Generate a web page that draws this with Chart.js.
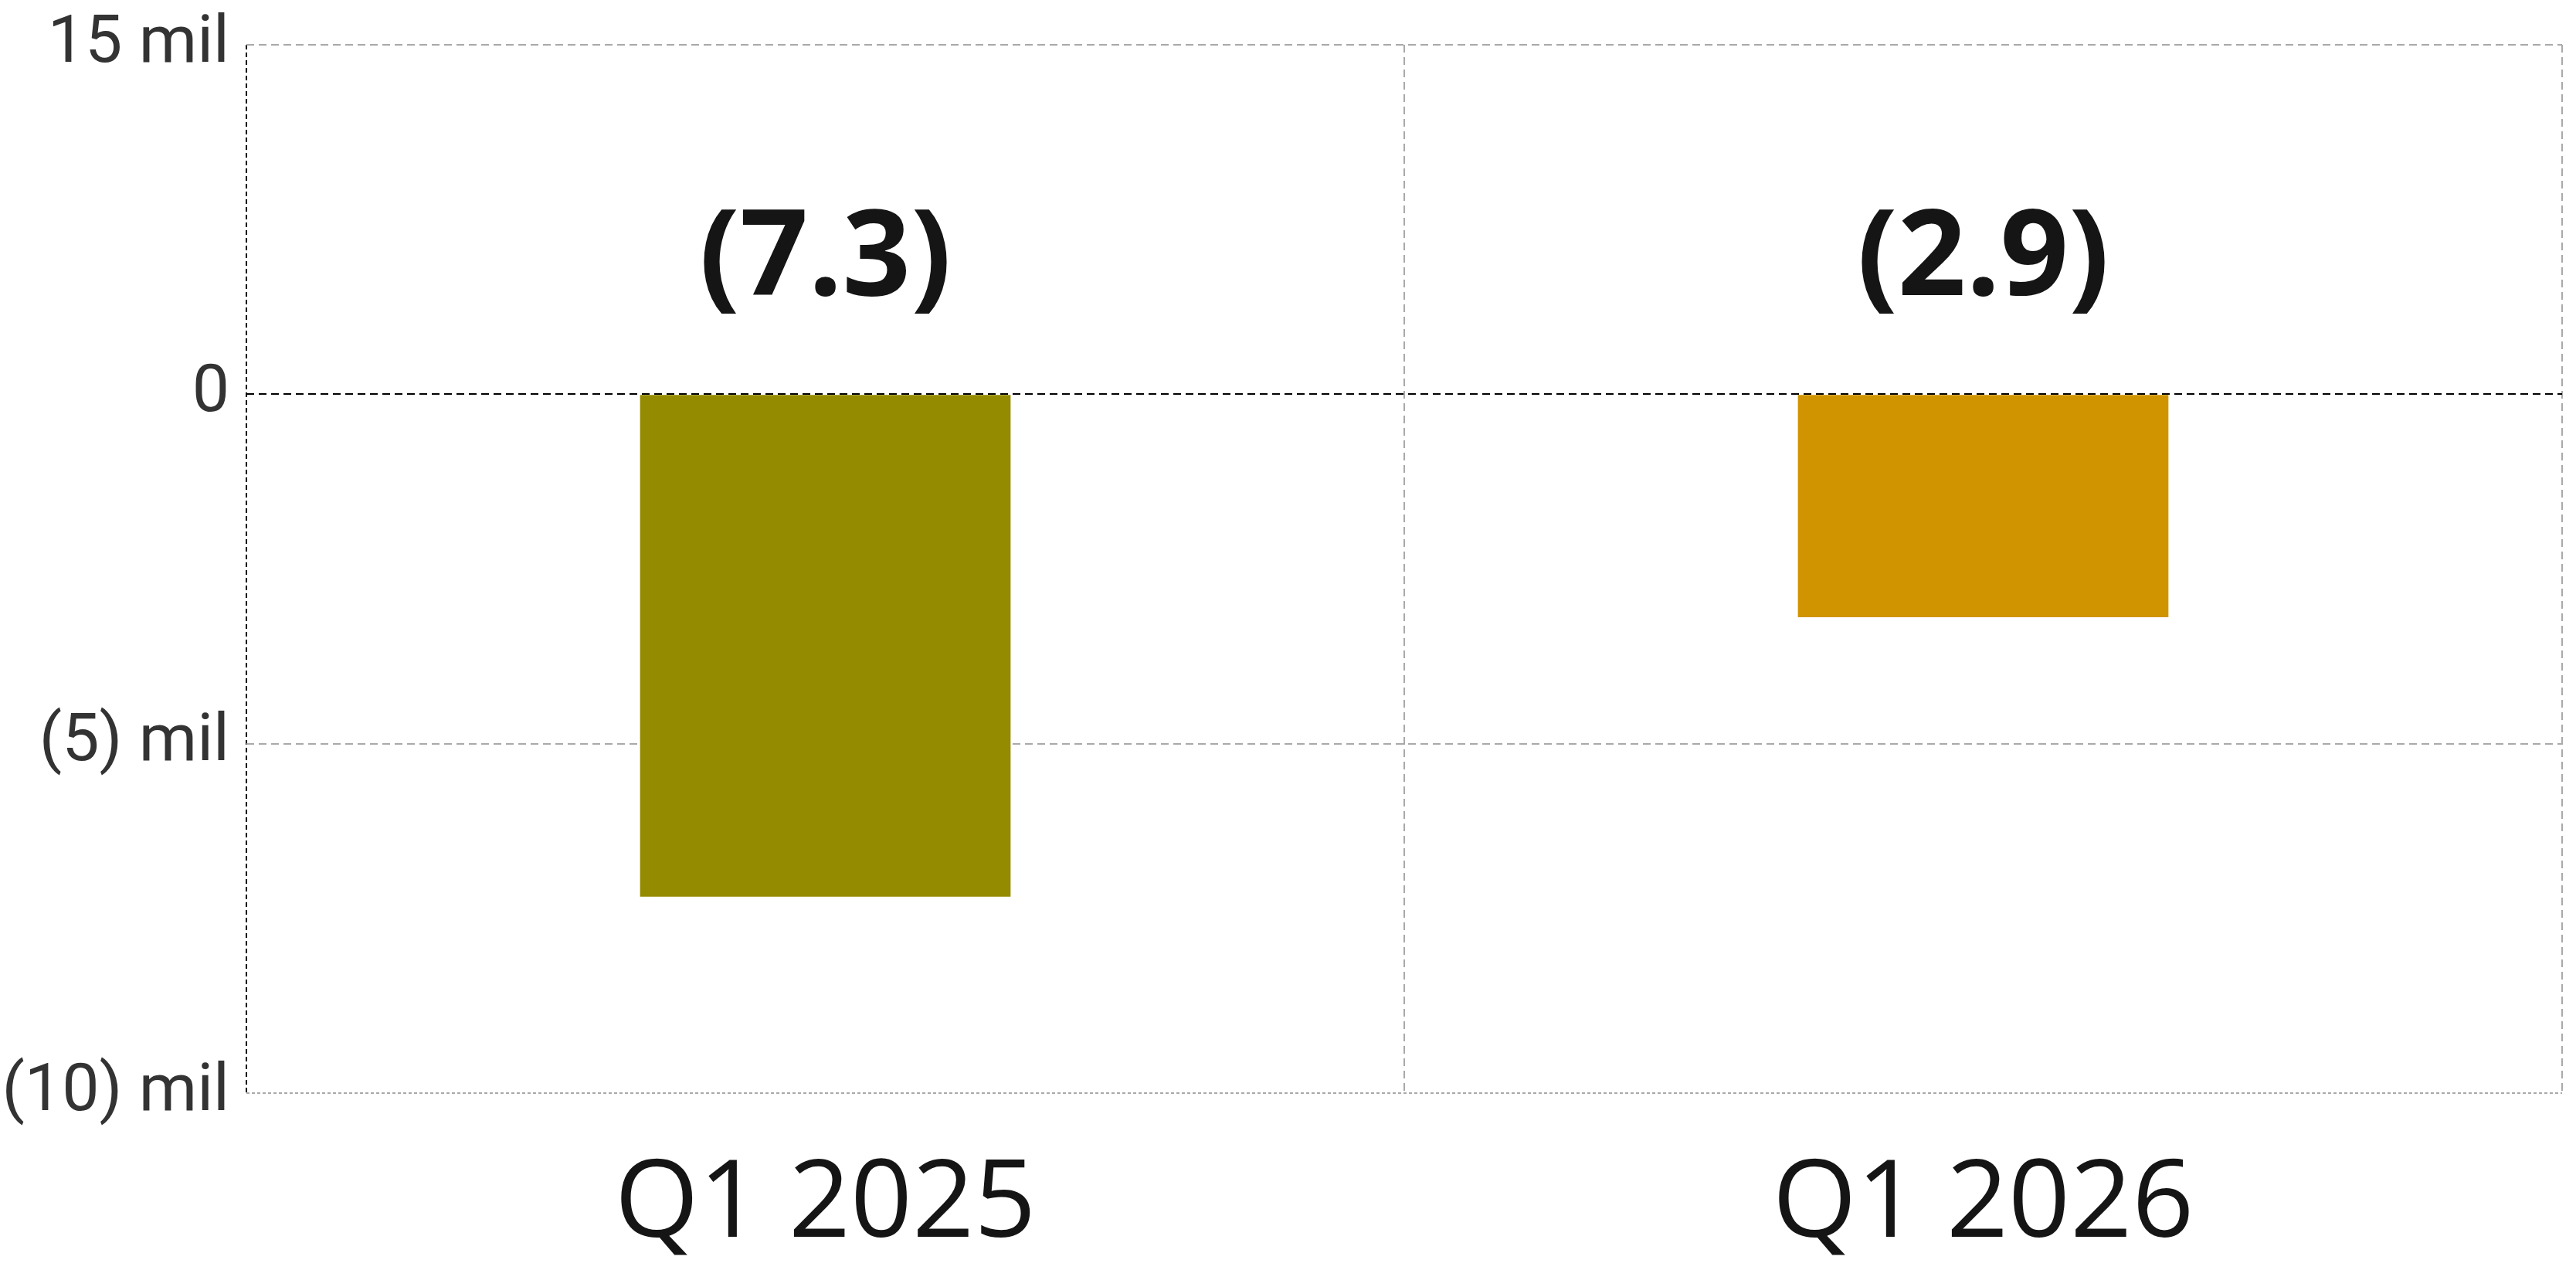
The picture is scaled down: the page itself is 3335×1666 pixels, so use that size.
<!DOCTYPE html>
<html>
<head>
<meta charset="utf-8">
<script src="https://cdn.jsdelivr.net/npm/chart.js@4.4.1/dist/chart.umd.min.js"></script>
<style>
  body { margin: 0; background: #ffffff; }
  #wrap { width: 3335px; height: 1666px; position: relative; }
</style>
</head>
<body>
<div id="wrap"><canvas id="chart"></canvas></div>
<script>
var categorias = ['Q1 2025', 'Q1 2026'];
var valores = [-7190, -3190];
var etiquetas = ['(7.3)', '(2.9)'];
var colores = ['#948b00', '#d09400'];

var ticksY = [5000, 0, -5000, -10000];
var ticksYTexto = ['15 mil', '0', '(5) mil', '(10) mil'];

var gris = '#a9a9a9';

// etiquetas encima de la linea del cero
var etiquetasPlugin = {
    id: 'etiquetas',
    afterDatasetsDraw: function (chart) {
        var ctx = chart.ctx;
        var meta = chart.getDatasetMeta(0);
        var cero = chart.scales.y.getPixelForValue(0);
        ctx.save();
        ctx.font = 'bold 155px "Open Sans"';
        ctx.fillStyle = '#151515';
        ctx.textAlign = 'center';
        ctx.textBaseline = 'middle';
        meta.data.forEach(function (barra, i) {
            ctx.fillText(etiquetas[i], barra.x, cero - 172);
        });
        ctx.restore();
    }
};

var canvas = document.getElementById('chart').getContext('2d');
window.bar = new Chart(canvas, {
    type: 'bar',
    data: {
        labels: categorias,
        datasets: [{
            data: valores,
            backgroundColor: colores,
            borderWidth: 0,
            categoryPercentage: 0.8,
            barPercentage: 0.4
        }]
    },
    plugins: [etiquetasPlugin],
    options: {
        responsive: true,
        maintainAspectRatio: false,
        animation: false,
        layout: {
            padding: { left: 0, right: 18, top: 58, bottom: 0 }
        },
        plugins: {
            legend: { display: false },
            tooltip: { enabled: false }
        },
        scales: {
            x: {
                afterFit: function (scale) { scale.height = 251; },
                grid: {
                    offset: true,
                    drawTicks: false,
                    lineWidth: 2,
                    color: function (c) { return c.index === 0 ? '#000000' : gris; }
                },
                border: {
                    display: false,
                    dash: function (c) {
                        if (c.index === 0) return [6, 4];
                        return c.index === 2 ? [3, 2] : [10, 6];
                    }
                },
                ticks: {
                    padding: 62,
                    color: '#151515',
                    font: { family: 'Open Sans', size: 140 }
                }
            },
            y: {
                min: -10000,
                max: 5000,
                afterFit: function (scale) {
                    scale.width = 319;
                    scale.paddingTop = 0;
                    scale.paddingBottom = 0;
                },
                afterBuildTicks: function (scale) {
                    scale.ticks = ticksY.map(function (v) { return { value: v }; });
                },
                grid: {
                    drawTicks: false,
                    lineWidth: 2,
                    color: function (c) {
                        return c.tick && c.tick.value === 0 ? '#000000' : gris;
                    }
                },
                border: {
                    display: false,
                    dash: function (c) {
                        if (c.tick && c.tick.value === -10000) return [4, 3];
                        return [10, 6];
                    }
                },
                ticks: {
                    padding: 22,
                    color: '#333333',
                    font: { family: 'Roboto', size: 86 },
                    callback: function (valor, indice) {
                        return ticksYTexto[indice];
                    }
                }
            }
        }
    }
});
</script>
</body>
</html>
